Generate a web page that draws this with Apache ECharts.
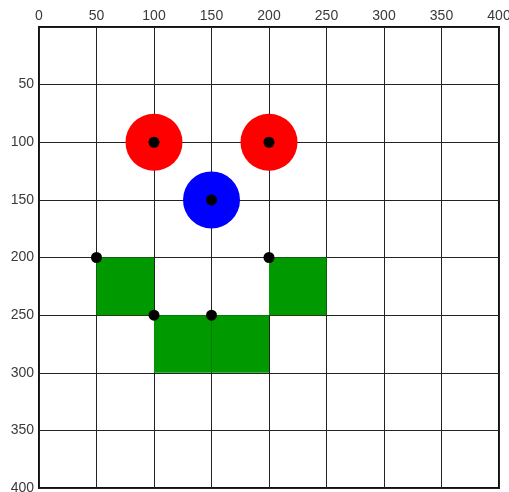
<!DOCTYPE html>
<html><head><meta charset="utf-8">
<script src="https://cdn.jsdelivr.net/npm/echarts@6/dist/echarts.min.js"></script>
<style>html,body{margin:0;padding:0;background:#fff}#c{width:509px;height:492px}</style>
</head><body><div id="c"></div>
<script>
const redCircles = [[100, 100], [200, 100]];
const blueCircles = [[150, 150]];
const greenRects = [[50, 200, 50, 50], [100, 250, 50, 50], [150, 250, 50, 50], [200, 200, 50, 50]];
const dots = [[100, 100], [200, 100], [150, 150], [50, 200], [100, 250], [150, 250], [200, 200]];

const chart = echarts.init(document.getElementById('c'));
const lbl = {color: '#3a3a3a', fontSize: 14, fontFamily: 'Liberation Sans, Arial, sans-serif'};
chart.setOption({
  animation: false,
  grid: {left: 39, top: 27, right: 10, bottom: 4, outerBoundsMode: 'none', containLabel: false,
    show: true, borderColor: '#111', borderWidth: 2, backgroundColor: '#fff'},
  xAxis: {type: 'value', position: 'top', min: 0, max: 400, interval: 50,
    axisLine: {show: false}, axisTick: {show: false},
    axisLabel: Object.assign({margin: 4}, lbl),
    splitLine: {show: true, lineStyle: {color: '#222', width: 1}}},
  yAxis: {type: 'value', inverse: true, min: 0, max: 400, interval: 50,
    axisLine: {show: false}, axisTick: {show: false},
    axisLabel: Object.assign({margin: 5, showMinLabel: false}, lbl),
    splitLine: {show: true, lineStyle: {color: '#222', width: 1}}},
  series: [
    {type: 'custom', data: greenRects, z: 3,
      renderItem: function (params, api) {
        const p0 = api.coord([api.value(0), api.value(1)]);
        const p1 = api.coord([api.value(0) + api.value(2), api.value(1) + api.value(3)]);
        return {type: 'rect', shape: {x: p0[0], y: p0[1], width: p1[0] - p0[0], height: p1[1] - p0[1]},
          style: {fill: '#009900'}};
      }},
    {type: 'scatter', data: redCircles, symbolSize: 57, itemStyle: {color: '#ff0000', opacity: 1}, z: 3},
    {type: 'scatter', data: blueCircles, symbolSize: 57, itemStyle: {color: '#0000ff', opacity: 1}, z: 3},
    {type: 'scatter', data: dots, symbolSize: 11, itemStyle: {color: '#000', opacity: 1}, z: 4}
  ]
});
</script></body></html>
